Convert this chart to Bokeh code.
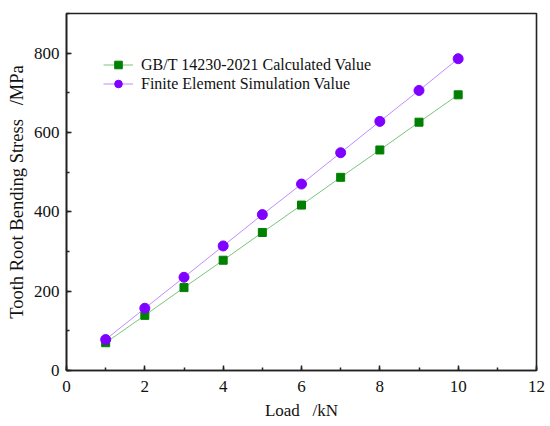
from bokeh.plotting import figure
from bokeh.models import Legend, LegendItem, SingleIntervalTicker, Range1d
from bokeh.embed import file_html
from bokeh.resources import INLINE

load_kn = [1, 2, 3, 4, 5, 6, 7, 8, 9, 10]
gbt_values = [70, 139, 209, 278, 348, 417, 487, 556, 626, 695]
fem_values = [78, 157, 235, 314, 393, 470, 549, 628, 706, 786]

x_title = "Load\u00a0\u00a0\u00a0/kN"
y_title = "Tooth Root Bending Stress\u00a0\u00a0\u00a0/MPa"

FONT = "Liberation Serif"

p = figure(width=550, height=426, output_backend="svg", toolbar_location=None,
           x_range=Range1d(0, 12), y_range=Range1d(0, 900),
           min_border_left=66, min_border_right=14, min_border_top=13, min_border_bottom=56)
p.grid.visible = False
p.background_fill_color = "white"
p.border_fill_color = "white"
p.outline_line_color = "#222222"
p.outline_line_width = 1.6

p.xaxis.ticker = SingleIntervalTicker(interval=2, num_minor_ticks=2)
p.yaxis.ticker = SingleIntervalTicker(interval=200, num_minor_ticks=2)

for ax in (p.xaxis[0], p.yaxis[0]):
    ax.axis_line_color = "#222222"
    ax.axis_line_width = 1.6
    ax.major_tick_in = 5
    ax.major_tick_out = 0
    ax.minor_tick_in = 3
    ax.minor_tick_out = 0
    ax.major_tick_line_width = 1.5
    ax.minor_tick_line_width = 1.5
    ax.major_tick_line_color = "#222222"
    ax.minor_tick_line_color = "#222222"
    ax.major_label_text_font = FONT
    ax.major_label_text_font_size = "17px"
    ax.major_label_text_color = "#111111"
    ax.axis_label_text_font = FONT
    ax.axis_label_text_font_style = "normal"
    ax.axis_label_text_color = "#111111"

p.xaxis.axis_label = x_title
p.yaxis.axis_label = y_title
p.xaxis.axis_label_text_font_size = "17px"
p.yaxis.axis_label_text_font_size = "18.5px"
p.xaxis.major_label_standoff = 10
p.xaxis.axis_label_standoff = 6
p.yaxis.major_label_standoff = 7
p.yaxis.axis_label_standoff = 4

l1 = p.line(load_kn, gbt_values, line_color="#7cc47c", line_width=1)
m1 = p.scatter(load_kn, gbt_values, marker="square", size=8, fill_color="#008000", line_color="#008000")
l2 = p.line(load_kn, fem_values, line_color="#c08cff", line_width=1)
m2 = p.scatter(load_kn, fem_values, marker="circle", size=10, fill_color="#8000ff", line_color="#8000ff")

legend = Legend(items=[
    LegendItem(label="GB/T 14230-2021 Calculated Value", renderers=[l1, m1]),
    LegendItem(label="Finite Element Simulation Value", renderers=[l2, m2]),
], location=(37, 277))
legend.margin = 0
legend.padding = 0
legend.spacing = 0
legend.glyph_width = 30
legend.glyph_height = 19
legend.label_height = 19
legend.label_standoff = 8
legend.label_text_font = FONT
legend.label_text_font_size = "16px"
legend.label_text_color = "#111111"
legend.background_fill_alpha = 0
legend.border_line_alpha = 0
p.add_layout(legend)

open("out.html", "w").write(file_html(p, INLINE))
